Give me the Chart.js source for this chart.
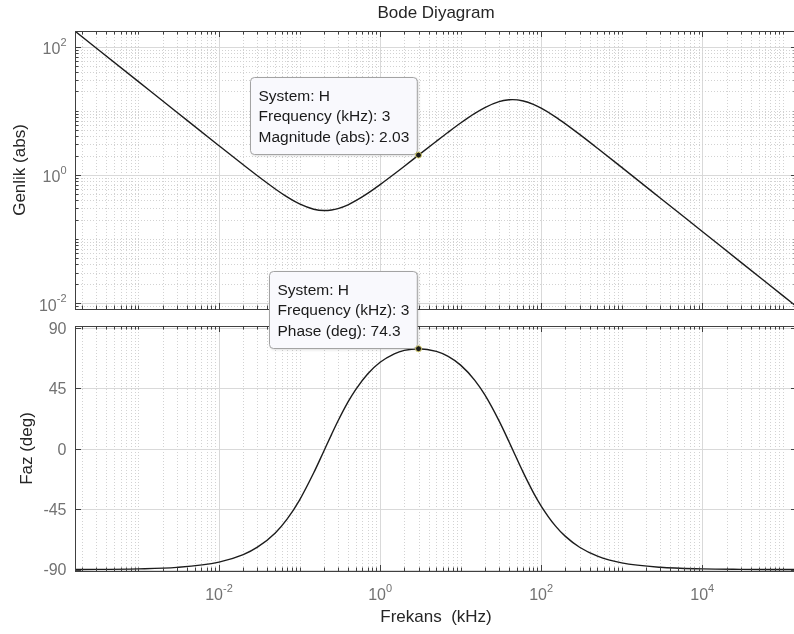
<!DOCTYPE html>
<html>
<head>
<meta charset="utf-8">
<script src="https://cdn.jsdelivr.net/npm/chart.js@4.4.0/dist/chart.umd.min.js"></script>
<style>
  html, body { margin: 0; padding: 0; background: #fff; overflow: hidden; }
  #wrap { position: relative; width: 794px; height: 634px; overflow: hidden; }
  canvas { position: absolute; left: 0; top: 0; }
</style>
</head>
<body>
<div id="wrap">
  <canvas id="mag" width="800" height="634"></canvas>
  <canvas id="phase" width="800" height="634"></canvas>
</div>
<script>
// values (frequency in kHz)
const freq = [1.63e-4, 1e-3, 3e-3, 0.01, 0.02, 0.03, 0.05, 0.07, 0.1, 0.15, 0.2, 0.25, 0.3, 0.4, 0.5, 0.7,
  1, 1.5, 2, 3, 5, 7, 10, 15, 20, 30, 40, 44, 60, 80, 100, 150, 200, 300, 500, 1000, 3000, 1e4, 3e4, 1e5, 1.5e5];
const magnitude = [174.2, 28.4, 9.469, 2.847, 1.434, 0.967, 0.602, 0.453, 0.3516, 0.2907, 0.2772, 0.2825, 0.2974, 0.3413, 0.3947, 0.5135,
  0.7038, 1.031, 1.363, 2.03, 3.342, 4.618, 6.429, 9.081, 11.20, 13.84, 14.80, 14.87, 14.18, 12.56, 10.96, 8.031, 6.240, 4.270, 2.597, 1.306, 0.4360, 0.1308, 0.04361, 0.01308, 0.00872];
const phase = [-89.91, -89.44, -88.32, -84.41, -78.85, -73.35, -62.71, -52.46, -38.26, -18.0, -1.93, 10.6, 20.5, 34.7, 44.1, 55.5,
  64.2, 70.5, 73.1, 74.3, 72.3, 68.6, 62.1, 50.8, 39.9, 20.6, 4.9, -0.5, -17.9, -32.7, -42.7, -57.5, -65.3, -73.4, -80.0, -85.0, -88.3, -89.5, -89.83, -89.95, -89.97];

const xTickExps = [-2, 0, 2, 4];
const magTickExps = [2, 0, -2];
const phaseTicks = [90, 45, 0, -45, -90];

const tipFreq = 3;
const tipMag = 2.03;
const tipPhase = 74.3;

const FONT = '"Liberation Sans", Arial, Helvetica, sans-serif';
const GRID = '#d9d9d9';
const MINOR = '#d2d2d2';
const AXIS = '#404040';
const TICKTXT = '#727272';

function logValues(min, max) {
  const out = [];
  for (let e = Math.floor(Math.log10(min)); e <= Math.ceil(Math.log10(max)); e++) {
    for (let k = 1; k <= 9; k++) {
      const v = k * Math.pow(10, e);
      if (v >= min && v <= max) out.push({ v: v, major: k === 1 && e % 2 === 0 });
    }
  }
  return out;
}

function crisp(p) { return Math.round(p) + 0.5; }

function vline(ctx, x, y0, y1) { ctx.beginPath(); ctx.moveTo(x, y0); ctx.lineTo(x, y1); ctx.stroke(); }
function hline(ctx, y, x0, x1) { ctx.beginPath(); ctx.moveTo(x0, y); ctx.lineTo(x1, y); ctx.stroke(); }

function drawPow10(ctx, e, x, y, align) {
  ctx.fillStyle = TICKTXT;
  ctx.textBaseline = 'middle';
  ctx.textAlign = 'left';
  ctx.font = '16px ' + FONT;
  const wb = ctx.measureText('10').width;
  ctx.font = '11px ' + FONT;
  const ws = ctx.measureText(String(e)).width;
  const start = align === 'center' ? x - (wb + ws) / 2 : x - wb - ws;
  ctx.font = '16px ' + FONT;
  ctx.fillText('10', start, y);
  ctx.font = '11px ' + FONT;
  ctx.fillText(String(e), start + wb, y - 7);
}

function drawTip(ctx, px, py, lines) {
  ctx.save();
  ctx.font = '15.5px ' + FONT;
  const w = Math.max(...lines.map(l => ctx.measureText(l).width)) + 16;
  const h = 77;
  const x0 = Math.round(px - 2 - w) + 0.5, y0 = Math.round(py - 1 - h) + 0.5;
  ctx.shadowColor = 'rgba(0,0,0,0.18)';
  ctx.shadowBlur = 3;
  ctx.shadowOffsetX = 1;
  ctx.shadowOffsetY = 1;
  ctx.beginPath();
  ctx.roundRect(x0, y0, w, h, 4);
  ctx.fillStyle = '#f9f9fd';
  ctx.fill();
  ctx.shadowColor = 'transparent';
  ctx.strokeStyle = '#a3a3a3';
  ctx.lineWidth = 1;
  ctx.stroke();
  ctx.fillStyle = '#1a1a1a';
  ctx.textBaseline = 'middle';
  ctx.textAlign = 'left';
  lines.forEach((l, i) => ctx.fillText(l, x0 + 8, y0 + 19 + i * 20.6));
  ctx.beginPath();
  ctx.arc(px, py, 3, 0, Math.PI * 2);
  ctx.fillStyle = '#1a1a1a';
  ctx.fill();
  ctx.strokeStyle = '#d8d070';
  ctx.lineWidth = 1;
  ctx.stroke();
  ctx.restore();
}

// grid, inside ticks and frame, MATLAB style
const framePlugin = {
  id: 'frame',
  beforeDatasetsDraw(chart, args, opts) {
    const ctx = chart.ctx, a = chart.chartArea, xs = chart.scales.x, ys = chart.scales.y;
    ctx.save();
    ctx.lineWidth = 1;
    logValues(xs.min, xs.max).forEach(t => {
      const px = crisp(xs.getPixelForValue(t.v));
      ctx.strokeStyle = t.major ? GRID : MINOR;
      ctx.setLineDash(t.major ? [] : [1, 2]);
      vline(ctx, px, a.top, a.bottom);
    });
    if (opts.logY) {
      logValues(ys.min, ys.max).forEach(t => {
        const py = crisp(ys.getPixelForValue(t.v));
        ctx.strokeStyle = t.major ? GRID : MINOR;
        ctx.setLineDash(t.major ? [] : [1, 2]);
        hline(ctx, py, a.left, a.right);
      });
    } else {
      ctx.setLineDash([]);
      ctx.strokeStyle = GRID;
      phaseTicks.forEach(v => hline(ctx, crisp(ys.getPixelForValue(v)), a.left, a.right));
    }
    ctx.restore();
  },
  afterDraw(chart, args, opts) {
    const ctx = chart.ctx, a = chart.chartArea, xs = chart.scales.x, ys = chart.scales.y;
    ctx.save();
    ctx.lineWidth = 1;
    ctx.strokeStyle = AXIS;
    // x ticks on top and bottom edges
    logValues(xs.min, xs.max).forEach(t => {
      const px = crisp(xs.getPixelForValue(t.v));
      const len = t.major ? 6 : 3.5;
      vline(ctx, px, a.top, a.top + len);
      vline(ctx, px, a.bottom, a.bottom - len);
    });
    // y ticks and labels
    if (opts.logY) {
      logValues(ys.min, ys.max).forEach(t => {
        const py = crisp(ys.getPixelForValue(t.v));
        const len = t.major ? 6 : 3.5;
        hline(ctx, py, a.left, a.left + len);
        hline(ctx, py, a.right, a.right - len);
      });
      magTickExps.forEach(e => drawPow10(ctx, e, 66.5, ys.getPixelForValue(Math.pow(10, e)) + 3, 'right'));
    } else {
      phaseTicks.forEach(v => {
        const py = crisp(ys.getPixelForValue(v));
        hline(ctx, py, a.left, a.left + 6);
        hline(ctx, py, a.right, a.right - 6);
      });
      ctx.fillStyle = TICKTXT;
      ctx.font = '16px ' + FONT;
      ctx.textAlign = 'right';
      ctx.textBaseline = 'middle';
      phaseTicks.forEach(v => ctx.fillText(String(v), 66.5, ys.getPixelForValue(v) + 1.5));
    }
    ctx.strokeRect(crisp(a.left), crisp(a.top), Math.round(a.right - a.left), Math.round(a.bottom - a.top));

    // axis titles
    ctx.fillStyle = '#262626';
    ctx.font = '17px ' + FONT;
    ctx.textAlign = 'center';
    ctx.textBaseline = 'alphabetic';
    ctx.save();
    ctx.translate(opts.yTitleX, (a.top + a.bottom) / 2);
    ctx.rotate(-Math.PI / 2);
    ctx.fillText(opts.yTitle, 0, 0);
    ctx.restore();
    const cx = (a.left + a.right) / 2;
    if (opts.title) {
      ctx.textBaseline = 'middle';
      ctx.fillText(opts.title, cx, 13);
    }
    if (opts.xTitle) {
      ctx.textBaseline = 'middle';
      ctx.fillText(opts.xTitle, cx, 617);
      xTickExps.forEach(e => drawPow10(ctx, e, xs.getPixelForValue(Math.pow(10, e)), 596, 'center'));
    }
    ctx.restore();

    const px = xs.getPixelForValue(tipFreq);
    const py = ys.getPixelForValue(opts.tipValue);
    drawTip(ctx, px, py, opts.tipLines);
  }
};

function makeChart(id, values, yScale, pad, frameOpts) {
  return new Chart(document.getElementById(id), {
    type: 'line',
    data: {
      datasets: [{
        data: freq.map((f, i) => ({ x: f, y: values[i] })),
        borderColor: '#1c1c1c',
        borderWidth: 1.4,
        pointRadius: 0,
        fill: false,
        cubicInterpolationMode: 'monotone'
      }]
    },
    options: {
      responsive: false,
      animation: false,
      events: [],
      layout: { padding: pad },
      plugins: { legend: { display: false }, tooltip: { enabled: false }, frame: frameOpts },
      scales: {
        x: { type: 'logarithmic', min: 1.63e-4, max: 1.5e5, display: false },
        y: Object.assign({ display: false }, yScale)
      }
    },
    plugins: [framePlugin]
  });
}

makeChart('mag', magnitude,
  { type: 'logarithmic', min: 0.00809, max: 175 },
  { left: 75, top: 31, right: 3, bottom: 325 },
  {
    logY: true, yTitle: 'Genlik (abs)', yTitleX: 25, title: 'Bode Diyagram',
    tipValue: tipMag,
    tipLines: ['System: H', 'Frequency (kHz): ' + tipFreq, 'Magnitude (abs): ' + tipMag.toFixed(2)]
  });

makeChart('phase', phase,
  { type: 'linear', min: -91.05, max: 91.2 },
  { left: 75, top: 326, right: 3, bottom: 63 },
  {
    logY: false, yTitle: 'Faz (deg)', yTitleX: 31.5, xTitle: 'Frekans  (kHz)',
    tipValue: tipPhase,
    tipLines: ['System: H', 'Frequency (kHz): ' + tipFreq, 'Phase (deg): ' + tipPhase]
  });
</script>
</body>
</html>
